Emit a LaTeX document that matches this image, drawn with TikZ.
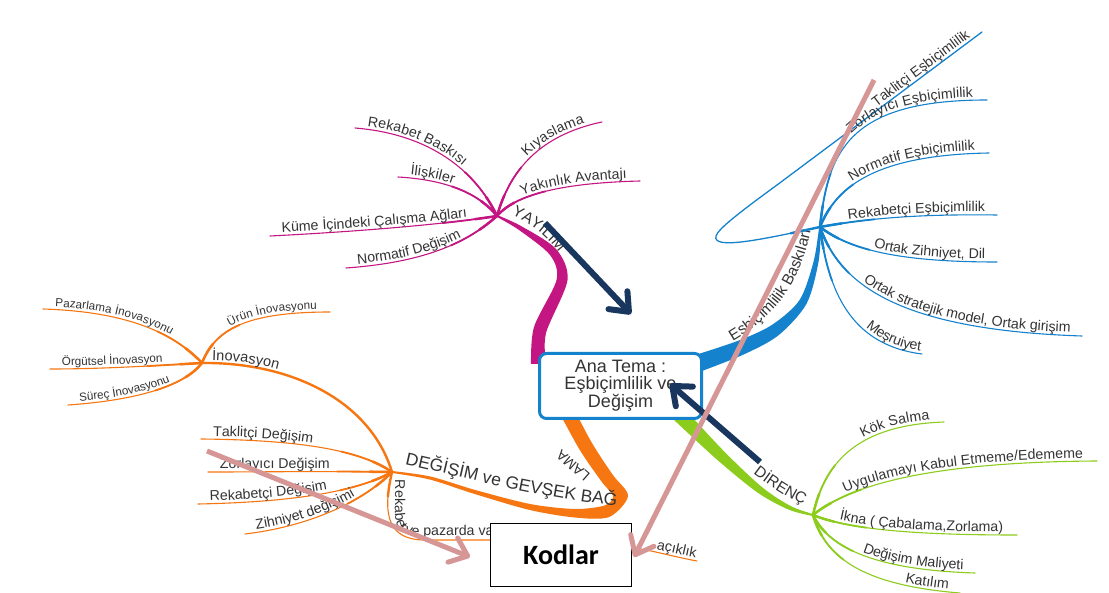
\documentclass[tikz,border=0pt]{standalone}
\usepackage{fontspec}
\setmainfont{Liberation Sans}
\newfontfamily\kodfont{Carlito}
\usetikzlibrary{decorations.text,arrows.meta}

\definecolor{mag}{RGB}{196,22,130}
\definecolor{org}{RGB}{246,118,18}
\definecolor{blu}{RGB}{20,130,204}
\definecolor{grn}{RGB}{140,204,28}
\definecolor{navy}{RGB}{24,54,94}
\definecolor{rose}{RGB}{214,150,150}
\definecolor{txt}{RGB}{52,52,52}

% label fonts
\newcommand\lab{\fontsize{14.2}{15}\selectfont\color{txt}}
\newcommand\labs{\fontsize{11.7}{12}\selectfont\color{txt}}
\newcommand\labm{\fontsize{15.5}{16}\selectfont\color{txt}}
\newcommand\labb{\fontsize{17.5}{18}\selectfont\color{txt}}

\tikzset{
  twg/.style={line width=1.1pt,line cap=round},
  navyarr/.style={draw=navy,line width=6pt,-{Straight Barb[length=16pt,width=26pt,round]}},
  rosearr/.style={draw=rose,line width=5pt,-{Straight Barb[length=16pt,width=26pt,round]}},
}

% a thin sub-branch, thicker next to its hub
\newcommand\twigline[5]{%
  \draw[twg,#1] (#2) .. controls (#3) and (#4) .. (#5);
  \draw[twg,#1,line width=1.8pt,dash pattern=on 55pt off 4000pt] (#2) .. controls (#3) and (#4) .. (#5);
  \draw[twg,#1,line width=2.5pt,dash pattern=on 22pt off 4000pt] (#2) .. controls (#3) and (#4) .. (#5);}

% sub-branch leaving its hub to the left, label read from the outer end
\newcommand\twigl[8]{%
  \coordinate (#5) at (#6);
  \twigline{#1}{#2}{#3}{#4}{#5}
  \path[decorate,decoration={text along path,raise=3pt,
      text align={left indent=#7},text={#8}}] (#5) .. controls (#4) and (#3) .. (#2);}

% sub-branch leaving its hub to the right, label ending near the outer end
\newcommand\twigr[8]{%
  \coordinate (#5) at (#6);
  \twigline{#1}{#2}{#3}{#4}{#5}
  \path[decorate,decoration={text along path,raise=3pt,
      text align={right,right indent=#7},text={#8}}] (#2) .. controls (#3) and (#4) .. (#5);}

\begin{document}
\begin{tikzpicture}[x=1pt,y=-1pt]
\fill[white] (0,0) rectangle (1109,593);
\useasboundingbox (0,0) rectangle (1109,593);

% hubs of the four main branches
\coordinate (H1) at (497,216);
\coordinate (H2) at (820,227);
\coordinate (H3) at (813,515);
\coordinate (H4) at (392,472);
\coordinate (H5) at (202,363);

% ---- main branches (tapering bands) ----
\fill[mag] plot[smooth] coordinates {(531,364) (534,327) (556.5,280) (550,255) (519,230) (497,217)}
  -- plot[smooth] coordinates {(497,215) (521,226) (556,249) (567.5,280) (546,333) (546,364)} -- cycle;
\fill[blu] plot[smooth] coordinates {(687.4,357.5) (737.5,341) (771.8,325) (799.6,300) (813.6,261.5) (819,228)}
  -- plot[smooth] coordinates {(821,228) (818.4,262.5) (806.4,304) (778.2,335.5) (742.5,355) (692.6,374.5)} -- cycle;
\fill[grn] plot[smooth] coordinates {(677.7,401.3) (723.7,451) (762.1,487.2) (790.9,506.2) (813,514)}
  -- plot[smooth] coordinates {(813,516) (789.1,509.8) (757.9,492.8) (716.3,459) (666.3,412.7)} -- cycle;
\fill[org] plot[smooth] coordinates {(566.6,394.5) (590.9,441.2) (612.5,474.5) (628,496) (609.1,517) (574.8,517.5) (529.4,509.9) (474.4,493.9) (429.7,479.5) (392,473)}
  -- plot[smooth] coordinates {(392,471) (430.3,476.5) (475.6,490.1) (530.6,504.1) (575.2,509) (604.9,505.4) (613,496) (601.5,481.5) (579.1,448.8) (553.4,401.5)} -- cycle;

% main branch labels
\path[decorate,decoration={text along path,text align={left indent=6pt},
  text={|\labm|YAYILIM}}] (506,212) .. controls (535,224) and (560,245) .. (575,282);
\path[decorate,decoration={text along path,text align={left indent=2pt},
  text={|\labm|Eşbiçimlilik Baskıları}}] (731,342) .. controls (770,319) and (803,290) .. (814,212);
\path[decorate,decoration={text along path,text align={left indent=4pt},
  text={|\labm|DİRENÇ}}] (750,471) .. controls (772,488) and (792,502) .. (824,513);
\path[decorate,decoration={text along path,text align={left indent=2pt},
  text={|\labb|DEĞİŞİM ve GEVŞEK BAĞ}}] (403,464) .. controls (470,479) and (555,502) .. (640,508);
\node[rotate=139,font=\lab] (lama) at (573,466) {LAMA};

% ---- YAYILIM ----
\twigl{mag}{H1}{480,180}{440,135}{rb}{355,128}{12pt}{|\lab|Rekabet Baskısı}
\twigl{mag}{H1}{480,195}{450,180}{il}{398,177}{12pt}{|\lab|İlişkiler}
\twigl{mag}{H1}{440,225}{350,232}{km}{270,236}{12pt}{|\lab|Küme İçindeki Çalışma Ağları}
\twigl{mag}{H1}{470,240}{430,262}{nd}{346,268}{12pt}{|\lab|Normatif Değişim}
\twigr{mag}{H1}{510,170}{540,135}{ky}{602,122}{17pt}{|\lab|Kıyaslama}
\twigr{mag}{H1}{515,195}{560,183}{ya}{640,181}{13pt}{|\lab|Yakınlık Avantajı}

% ---- Eşbiçimlilik Baskıları ----
\coordinate (tk) at (982,32);
\draw[twg,blu,line width=1.3pt] (H2) .. controls (760,240) and (712,250) .. (716,236)
  .. controls (718,229) and (740,212) .. (777,185) -- (tk);
\draw[twg,blu,line width=2.4pt,dash pattern=on 30pt off 4000pt] (H2) .. controls (760,240) and (712,250) .. (716,236);
\path[decorate,decoration={text along path,raise=3pt,text align={right,right indent=12pt},
  text={|\lab|Taklitçi Eşbiçimlilik}}] (777,185) -- (tk);
\twigr{blu}{H2}{828,150}{850,100}{zo}{987,100}{14pt}{|\lab|Zorlayıcı Eşbiçimlilik}
\twigr{blu}{H2}{835,190}{870,155}{ne}{989,153}{14pt}{|\lab|Normatif Eşbiçimlilik}
\twigr{blu}{H2}{870,218}{920,214}{re}{997,215}{12pt}{|\lab|Rekabetçi Eşbiçimlilik}
\twigr{blu}{H2}{850,250}{900,262}{oz}{997,262}{12pt}{|\lab|Ortak Zihniyet, Dil}
\twigr{blu}{H2}{840,285}{900,330}{os}{1082,336}{12pt}{|\lab|Ortak stratejik model, Ortak girişim}
\twigr{blu}{H2}{828,290}{850,345}{me}{922,354}{2pt}{|\lab|Meşruiyet}

% ---- DİRENÇ ----
\twigr{grn}{H3}{825,460}{860,425}{ks}{944,422}{14pt}{|\lab|Kök Salma}
\twigr{grn}{H3}{850,485}{930,462}{ug}{1097,461}{14pt}{|\lab|Uygulamayı Kabul Etmeme/Edememe}
\twigr{grn}{H3}{850,530}{920,535}{ik}{1017,535}{14pt}{|\lab|İkna ( Çabalama,Zorlama)}
\twigr{grn}{H3}{830,550}{880,570}{dm}{975,573}{12pt}{|\lab|Değişim Maliyeti}
\twigr{grn}{H3}{825,556}{860,585}{kt}{960,593}{12pt}{|\lab|Katılım}

% ---- DEĞİŞİM ve GEVŞEK BAĞ ----
\twigl{org}{H4}{360,450}{300,440}{td}{201,439}{12pt}{|\lab|Taklitçi Değişim}
\twigl{org}{H4}{330,471}{270,472}{zd}{208,472}{12pt}{|\lab|Zorlayıcı Değişim}
\twigl{org}{H4}{360,490}{300,502}{rd}{198,504}{12pt}{|\lab|Rekabetçi Değişim}
\twigl{org}{H4}{370,495}{320,525}{zh}{245,534}{12pt}{|\lab|Zihniyet değişimi}

\coordinate (rp) at (520,540);
\draw[twg,org] (H4) .. controls (382,515) and (388,540) .. (425,540) -- (rp);
\draw[twg,org,line width=2.4pt,dash pattern=on 25pt off 4000pt] (H4) .. controls (382,515) and (388,540) .. (425,540);
% its label runs down beside the branch and then along the bottom
\path[decorate,decoration={text along path,text align={left indent=2pt},
  text={|\lab|Rekabet ve pazarda va}}] (395,478) -- (395,508) .. controls (395,530) and (400,536) .. (422,536) -- (510,536);

\coordinate (ac1) at (634,548);
\coordinate (ac2) at (697,561);
\draw[twg,org] (ac1) .. controls (655,551) and (675,557) .. (ac2);
\path[decorate,decoration={text along path,raise=3pt,text align={right,right indent=2pt},
  text={|\lab|açıklık}}] (ac1) .. controls (655,551) and (675,557) .. (ac2);

% ---- İnovasyon ----
\draw[org,line width=2.4pt] (H5) .. controls (290,362) and (370,400) .. (H4);
\path[decorate,decoration={text along path,raise=3pt,text align={left indent=10pt},
  text={|\fontsize{14.5}{15}\selectfont\color{txt}|İnovasyon}}] (H5) .. controls (290,362) and (370,400) .. (H4);
\twigl{org}{H5}{180,340}{140,312}{pz}{43,309}{12pt}{|\labs|Pazarlama İnovasyonu}
\twigr{org}{H5}{215,330}{245,312}{ur}{330,312}{13pt}{|\labs|Ürün İnovasyonu}
\twigl{org}{H5}{150,366}{100,369}{og}{50,369}{12pt}{|\labs|Örgütsel İnovasyon}
\twigl{org}{H5}{185,385}{140,400}{sr}{68,405}{12pt}{|\labs|Süreç İnovasyonu}

% ---- central theme and code box ----
\node[draw=blu,line width=3pt,rounded corners=7pt,fill=white,minimum width=162pt,
  minimum height=65pt,inner sep=0pt,align=center,text=txt,
  font=\fontsize{18}{16.5}\selectfont] (ana) at (620.5,386) {Ana Tema :\\Eşbiçimlilik ve\\Değişim};
\node[draw=black,line width=1.6pt,fill=white,minimum width=141pt,minimum height=63pt,
  inner sep=0pt,font=\kodfont\bfseries\fontsize{28}{28}\selectfont] (kod) at (561,555) {Kodlar};

% ---- arrows ----
\coordinate (a1s) at (545,223);
\coordinate (a1e) at (631,314);
\coordinate (a2s) at (760,462);
\coordinate (a2e) at (670,384);
\coordinate (p1s) at (874,80);
\coordinate (p1e) at (634,557);
\coordinate (p2s) at (207,451);
\coordinate (p2e) at (470,557);
\draw[navyarr] (a1s) -- (a1e);
\draw[navyarr] (a2s) -- (a2e);
\draw[rosearr] (p1s) -- (p1e);
\draw[rosearr] (p2s) -- (p2e);
\end{tikzpicture}
\end{document}
